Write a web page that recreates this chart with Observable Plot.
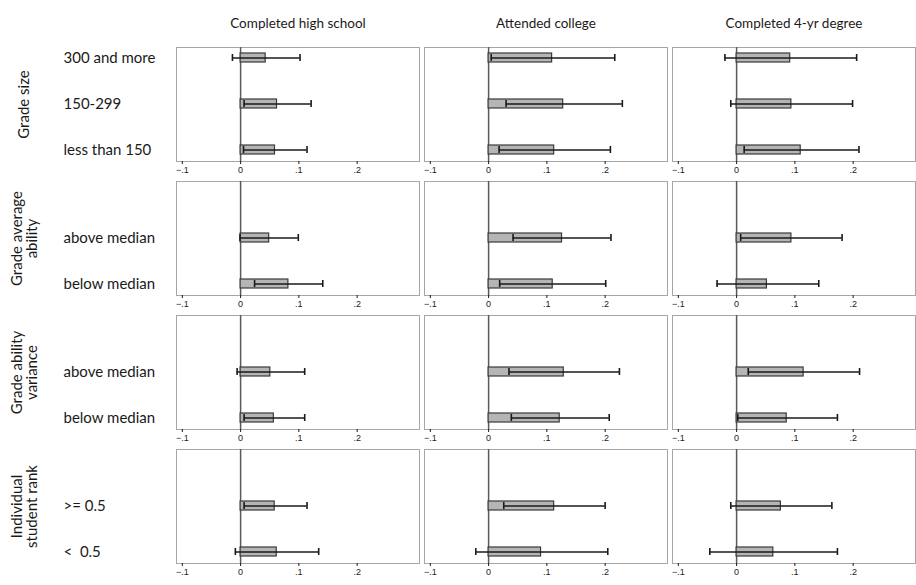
<!DOCTYPE html>
<html>
<head>
<meta charset="utf-8">
<script src="https://cdn.jsdelivr.net/npm/d3@7"></script>
<script src="https://cdn.jsdelivr.net/npm/@observablehq/plot@0.6"></script>
<style>
  html, body { margin: 0; padding: 0; background: #fff; }
  #chart svg { display: block; }
</style>
</head>
<body>
<div id="chart"></div>
<script>
// Outcomes (columns), subgroup dimensions (rows) and their categories
const outcomes = ["Completed high school", "Attended college", "Completed 4-yr degree"];
const groups = ["Grade size", "Grade average ability", "Grade ability variance", "Individual student rank"];
const groupLabels = ["Grade size", "Grade average\nability", "Grade ability\nvariance", "Individual\nstudent rank"];
const categories = [
  ["300 and more", "150-299", "less than 150"],
  ["above median", "below median"],
  ["above median", "below median"],
  [">= 0.5", "<\u00a0\u00a00.5"]
];
const xTicks = [-0.1, 0, 0.1, 0.2];

// Estimates with lower / upper confidence bounds, one value per category row (top to bottom)
const estHighSchool = [0.043, 0.0625, 0.059, 0.049, 0.082, 0.051, 0.057, 0.0585, 0.062];
const loHighSchool  = [-0.014, 0.006, 0.005, -0.001, 0.024, -0.006, 0.006, 0.006, -0.009];
const hiHighSchool  = [0.102, 0.121, 0.114, 0.099, 0.141, 0.110, 0.110, 0.114, 0.134];

const estCollege = [0.109, 0.128, 0.1125, 0.126, 0.110, 0.129, 0.122, 0.1125, 0.090];
const loCollege  = [0.0045, 0.030, 0.018, 0.042, 0.019, 0.035, 0.039, 0.026, -0.022];
const hiCollege  = [0.2165, 0.2295, 0.209, 0.210, 0.201, 0.2245, 0.207, 0.200, 0.2045];

const estDegree = [0.092, 0.094, 0.110, 0.094, 0.052, 0.115, 0.086, 0.076, 0.063];
const loDegree  = [-0.020, -0.010, 0.013, 0.007, -0.0335, 0.020, 0.002, -0.010, -0.046];
const hiDegree  = [0.206, 0.199, 0.210, 0.181, 0.141, 0.211, 0.173, 0.1635, 0.173];

const series = [
  [estHighSchool, loHighSchool, hiHighSchool],
  [estCollege, loCollege, hiCollege],
  [estDegree, loDegree, hiDegree]
];

// Every panel has three slots; two-category groups fill the lower two
const rows = [];
groups.forEach((g, gi) => {
  const cats = categories[gi];
  cats.forEach((c, ci) => rows.push({group: g, category: c, slot: String(3 - cats.length + ci), outcome: outcomes[0]}));
});

const data = outcomes.flatMap((o, oi) => rows.map((r, ri) => ({
  group: r.group,
  slot: r.slot,
  outcome: o,
  est: series[oi][0][ri],
  lo: series[oi][1][ri],
  hi: series[oi][2][ri]
})));

const groupText = groups.map((g, i) => ({group: g, label: groupLabels[i], outcome: outcomes[0]}));

const fmt = d => d === 0 ? "0" : d3.format(".1f")(d).replace("0.", ".");
const labelFont = "Lato, 'Open Sans', sans-serif";

const chart = Plot.plot({
  width: 916,
  height: 585,
  marginTop: 46,
  marginBottom: 21,
  marginLeft: 175,
  marginRight: 0,
  style: {fontFamily: labelFont, color: "#1a1a1a", background: "#fff"},
  x: {domain: [-0.11, 0.307]},
  y: {domain: ["0", "1", "2"], paddingInner: 0.795, paddingOuter: 0.135, axis: null},
  fx: {domain: outcomes, paddingInner: 0.02, paddingOuter: 0},
  fy: {domain: groups, paddingInner: 0.147, paddingOuter: 0, axis: null},
  marks: [
    Plot.frame({stroke: "#a6a6a6"}),
    Plot.ruleX([0], {stroke: "#5a5a5a", strokeWidth: 1.5}),
    Plot.barX(data, {fx: "outcome", fy: "group", y: "slot", x1: 0, x2: "est", fill: "#b5b5b5", stroke: "#3a3a3a", strokeWidth: 1.2}),
    Plot.ruleY(data, {fx: "outcome", fy: "group", y: "slot", x1: "lo", x2: "hi", stroke: "#1a1a1a", strokeWidth: 1.6}),
    Plot.tickX(data, {fx: "outcome", fy: "group", y: "slot", x: "lo", stroke: "#1a1a1a", strokeWidth: 1.6, insetTop: 1, insetBottom: 1}),
    Plot.tickX(data, {fx: "outcome", fy: "group", y: "slot", x: "hi", stroke: "#1a1a1a", strokeWidth: 1.6, insetTop: 1, insetBottom: 1}),
    Plot.axisX(xTicks, {anchor: "bottom", facetAnchor: null, tickSize: 3, tickPadding: 2, fontSize: 9, fontFamily: "'Liberation Sans', Arial, sans-serif", tickFormat: fmt, label: null, line: true}),
    Plot.axisFx({anchor: "top", tickSize: 0, tickPadding: 20, label: null, fontSize: 13.5}),
    Plot.text(rows, {fx: "outcome", fy: "group", y: "slot", text: "category", frameAnchor: "left", textAnchor: "start", dx: -113, fontSize: 15}),
    Plot.text(groupText, {fx: "outcome", fy: "group", text: "label", frameAnchor: "left", textAnchor: "middle", rotate: -90, dx: -152, fontSize: 15, lineAnchor: "middle"})
  ]
});

document.getElementById("chart").appendChild(chart);
</script>
</body>
</html>
